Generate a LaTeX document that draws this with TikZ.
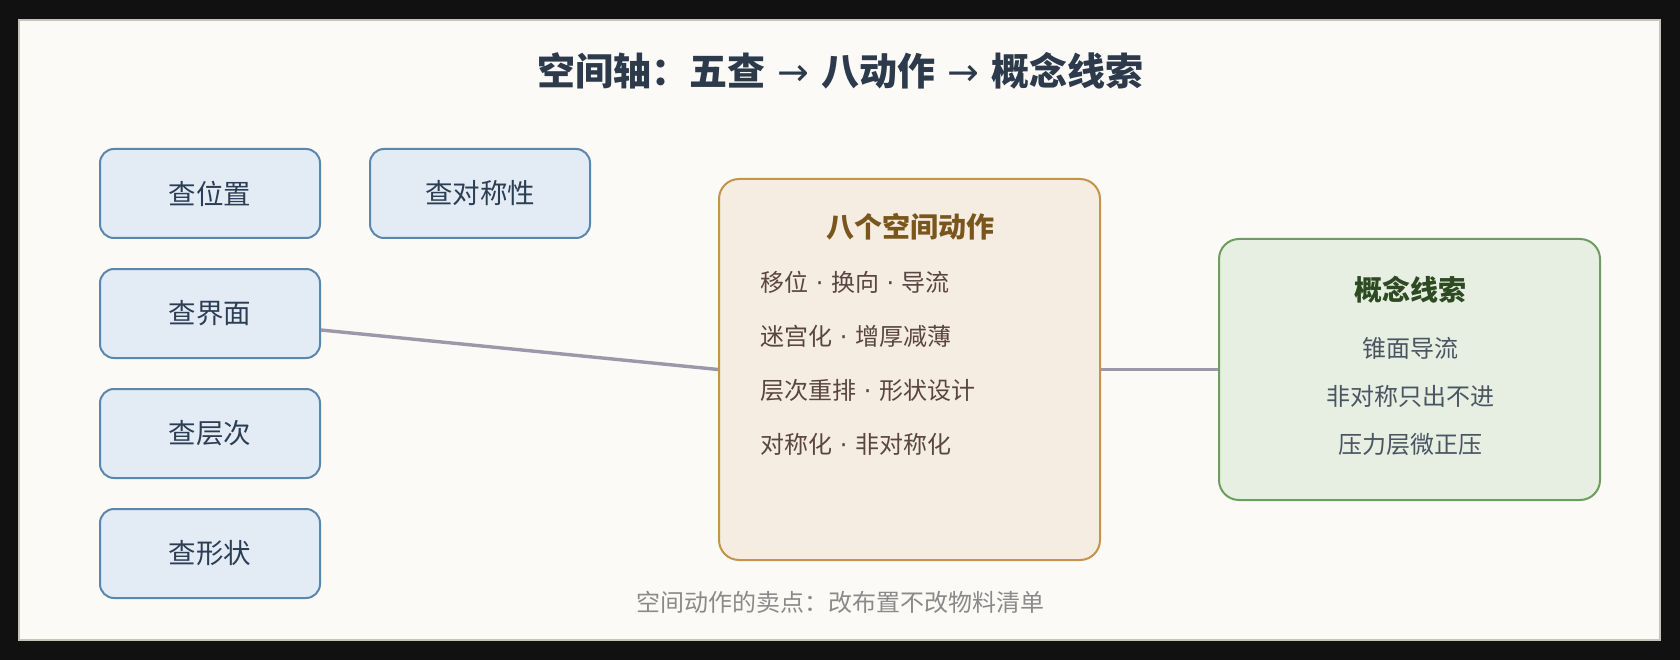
\documentclass[tikz,border=0pt]{standalone}
\usepackage{fontspec}
\setmainfont{Noto Sans CJK SC}
\newfontfamily\symfont{DejaVu Sans}
\usetikzlibrary{calc}
\definecolor{outerbg}{HTML}{111111}
\definecolor{panelbg}{HTML}{FBFAF6}
\definecolor{panelline}{HTML}{C8C4BC}
\definecolor{titlecol}{HTML}{2C3A4C}
\definecolor{chkfill}{HTML}{E3ECF5}
\definecolor{chkline}{HTML}{5B86AD}
\definecolor{chktext}{HTML}{2C3E55}
\definecolor{actfill}{HTML}{F5ECE2}
\definecolor{actline}{HTML}{C4944A}
\definecolor{acttitle}{HTML}{7A561C}
\definecolor{acttext}{HTML}{5A4640}
\definecolor{cptfill}{HTML}{E6EFE2}
\definecolor{cptline}{HTML}{6E9E5E}
\definecolor{cpttitle}{HTML}{2D4A22}
\definecolor{cpttext}{HTML}{4A5563}
\definecolor{linkcol}{HTML}{9A98AA}
\definecolor{footcol}{HTML}{8A8A8A}
\newcommand{\mdsep}{{\symfont\ ·\ }}
\newcommand{\arsep}{{\symfont\mdseries\ →\ }}
\tikzset{
  chkbox/.style={draw=chkline, fill=chkfill, line width=2pt, rounded corners=14pt,
    minimum width=220pt, minimum height=89pt, inner sep=0pt,
    text=chktext, font=\fontsize{27.5}{32}\selectfont},
  bigbox/.style={line width=2pt, rounded corners=20pt, inner sep=0pt},
  boxtitle/.style={font=\fontsize{28}{34}\selectfont\bfseries, inner sep=0pt},
  boxline/.style={font=\fontsize{24}{30}\selectfont, inner sep=0pt},
  link/.style={draw=linkcol, line width=3.4pt},
}
\begin{document}
\begin{tikzpicture}[x=1pt,y=-1pt]
\useasboundingbox (0,0) rectangle (1680,660);
\fill[outerbg] (0,0) rectangle (1680,660);
\filldraw[fill=panelbg, draw=panelline, line width=2pt] (19,20) rectangle (1660,640);

\node[font=\fontsize{38}{44}\selectfont\bfseries, text=titlecol, inner sep=0pt] (title) at (840,71) {空间轴：五查\arsep 八动作\arsep 概念线索};

\node[chkbox] (wz) at (210,193.5) {查位置};
\node[chkbox] (dc) at (480,193.5) {查对称性};
\node[chkbox] (jm) at (210,313.5) {查界面};
\node[chkbox] (cc) at (210,433.5) {查层次};
\node[chkbox] (xz) at (210,553.5) {查形状};

\node[bigbox, draw=actline, fill=actfill, minimum width=381pt, minimum height=381pt] (act) at (909.5,369.5) {};
\node[boxtitle, text=acttitle] (acttitle) at (910,227) {八个空间动作};
\node[boxline, text=acttext, anchor=west] (a1) at (760,282) {移位\mdsep 换向\mdsep 导流};
\node[boxline, text=acttext, anchor=west] (a2) at (760,336) {迷宫化\mdsep 增厚减薄};
\node[boxline, text=acttext, anchor=west] (a3) at (760,390) {层次重排\mdsep 形状设计};
\node[boxline, text=acttext, anchor=west] (a4) at (760,444) {对称化\mdsep 非对称化};

\node[bigbox, draw=cptline, fill=cptfill, minimum width=381pt, minimum height=261pt] (cpt) at (1409.5,369.5) {};
\node[boxtitle, text=cpttitle] (cpttitle) at (1410,290) {概念线索};
\node[boxline, text=cpttext] (c1) at (1410,348) {锥面导流};
\node[boxline, text=cpttext] (c2) at (1410,396) {非对称只出不进};
\node[boxline, text=cpttext] (c3) at (1410,444) {压力层微正压};

\draw[link] ($(jm.east)+(0,16.5)$) -- (act.west);
\draw[link] (act.east) -- (cpt.west);

\node[font=\fontsize{24}{30}\selectfont, text=footcol, inner sep=0pt] (foot) at (840,602) {空间动作的卖点：改布置不改物料清单};
\end{tikzpicture}
\end{document}
